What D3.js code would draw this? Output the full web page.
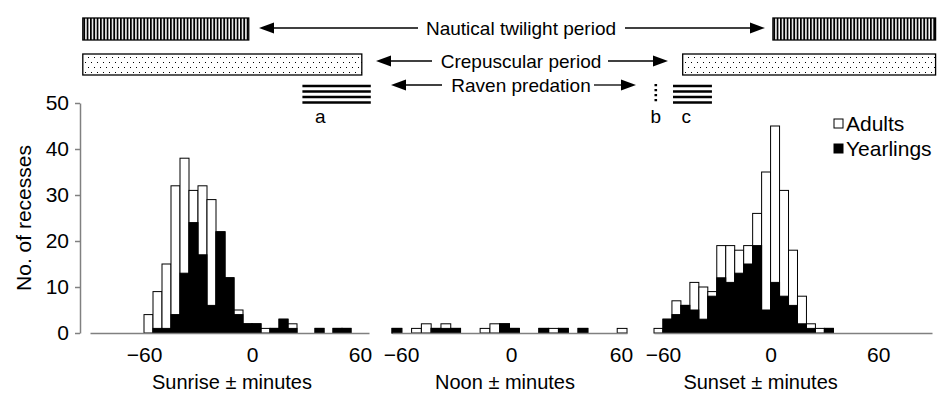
<!DOCTYPE html>
<html><head><meta charset="utf-8">
<script src="https://cdn.jsdelivr.net/npm/d3@7/dist/d3.min.js"></script>
<style>
body{margin:0;background:#fff}
svg{display:block;font-family:"Liberation Sans",Arial,sans-serif}
</style></head><body>
<svg width="938" height="393"></svg>
<script>
// 5-minute classes, value = start of the class
const sunriseBins = d3.range(-60, 55, 5);
const sunriseAdults    = [4,8,14,28,25,7,15,23,0,0,1,0,0,1,0,0,1,0,0,0,0,0,0];
const sunriseYearlings = [0,1,1,4,13,24,17,6,22,12,4,2,2,0,1,3,1,0,0,1,0,1,1];

const noonBins = d3.range(-60, 60, 5);
const noonAdults    = [0,0,1,2,0,1,0,0,0,1,2,0,0,0,0,0,1,0,0,0,0,0,0,1];
const noonYearlings = [1,0,0,0,1,1,1,0,0,0,0,2,1,0,0,1,0,1,0,1,0,0,0,0];

const sunsetBins = d3.range(-65, 35, 5);
const sunsetAdults    = [1,0,3,0,6,7,1,7,8,5,4,7,30,34,23,12,6,1,1,0];
const sunsetYearlings = [0,3,4,6,5,3,8,12,11,13,15,19,5,11,8,6,2,1,0,1];

const yTicks = [0, 10, 20, 30, 40, 50];
const xTicks = [-60, 0, 60];

const svg = d3.select("svg");
const y = d3.scaleLinear([0, 50], [333, 103]);
const gray = "#808080";

const panels = [
  {bins: sunriseBins, adults: sunriseAdults, yearlings: sunriseYearlings, domain: [-90, 65], range: [90, 369], tickRange: null, title: "Sunrise \u00b1 minutes", titleOff: -20},
  {bins: noonBins, adults: noonAdults, yearlings: noonYearlings, domain: [-60, 60], range: [392, 627], tickRange: [401, 621], title: "Noon \u00b1 minutes", titleOff: -6},
  {bins: sunsetBins, adults: sunsetAdults, yearlings: sunsetYearlings, domain: [-65, 90], range: [654, 932], tickRange: null, title: "Sunset \u00b1 minutes", titleOff: -10}
];

// --- y axis ---
const yAxis = svg.append("g").attr("transform", "translate(80,0)")
  .call(d3.axisLeft(y).tickValues(yTicks).tickSize(5).tickSizeOuter(0).tickPadding(6));
yAxis.select(".domain").attr("stroke", gray).attr("stroke-width", 1.5);
yAxis.selectAll(".tick line").attr("stroke", gray).attr("stroke-width", 1.5);
yAxis.selectAll("text").attr("font-size", 21).attr("fill", "#000").attr("font-family", null);

svg.append("text").attr("transform", "translate(31,218) rotate(-90)")
  .attr("text-anchor", "middle").attr("font-size", 21).text("No. of recesses");

// --- panels ---
panels.forEach(p => {
  p.x = d3.scaleLinear(p.domain, p.range);
  const bw = p.x(5) - p.x(0);
  const g = svg.append("g");
  const rows = p.bins.map((b, i) => ({bin: b, ad: p.adults[i], yr: p.yearlings[i]}));

  g.selectAll("rect.tot").data(rows.filter(d => d.ad + d.yr > 0)).enter().append("rect")
    .attr("x", d => p.x(d.bin)).attr("width", bw)
    .attr("y", d => y(d.ad + d.yr)).attr("height", d => y(0) - y(d.ad + d.yr))
    .attr("fill", "#fff").attr("stroke", "#000").attr("stroke-width", 1);
  g.selectAll("rect.yr").data(rows.filter(d => d.yr > 0)).enter().append("rect")
    .attr("x", d => p.x(d.bin)).attr("width", bw)
    .attr("y", d => y(d.yr)).attr("height", d => y(0) - y(d.yr))
    .attr("fill", "#000").attr("stroke", "#000").attr("stroke-width", 1);

  // baseline
  const base = svg.append("g").attr("transform", "translate(0,333)")
    .call(d3.axisBottom(p.x).tickValues([]).tickSizeOuter(0));
  base.select(".domain").attr("stroke", gray).attr("stroke-width", 1.5);

  // tick labels (noon labels sit slightly inside the panel ends)
  const xt = p.tickRange ? d3.scaleLinear([-60, 60], p.tickRange) : p.x;
  const ax = svg.append("g").attr("transform", "translate(0,333)")
    .call(d3.axisBottom(xt).tickValues(xTicks).tickSize(0).tickPadding(14));
  ax.select(".domain").remove();
  ax.selectAll("text").attr("font-size", 21).attr("fill", "#000").attr("font-family", null);

  svg.append("text").attr("x", xt(0) + p.titleOff).attr("y", 389).attr("text-anchor", "middle")
    .attr("font-size", 20).text(p.title);
});

// --- top annotations: periods in minutes relative to sunrise / sunset ---
const xs = panels[0].x, xe = panels[2].x;
const defs = svg.append("defs");
const stripes = defs.append("pattern").attr("id", "stripes").attr("patternUnits", "userSpaceOnUse")
  .attr("width", 10 / 3).attr("height", 10);
stripes.append("rect").attr("width", 10 / 3).attr("height", 10).attr("fill", "#fff");
stripes.append("rect").attr("width", 1.8).attr("height", 10).attr("fill", "#000");
const dots = defs.append("pattern").attr("id", "dots").attr("patternUnits", "userSpaceOnUse")
  .attr("width", 6).attr("height", 10);
dots.append("rect").attr("x", 1).attr("y", 2).attr("width", 1).attr("height", 1).attr("fill", "#000");
dots.append("rect").attr("x", 4).attr("y", 7).attr("width", 1).attr("height", 1).attr("fill", "#000");

const boxes = [
  {x0: xs(-94), x1: xs(-1.8), y: 18, h: 22, fill: "url(#stripes)"},
  {x0: xe(1.3), x1: xe(92), y: 18, h: 22, fill: "url(#stripes)"},
  {x0: xs(-94), x1: xs(61), y: 54, h: 21, fill: "url(#dots)"},
  {x0: xe(-49), x1: xe(92), y: 54, h: 21, fill: "url(#dots)"}
];
svg.selectAll("rect.box").data(boxes).enter().append("rect")
  .attr("x", d => d.x0).attr("y", d => d.y).attr("width", d => d.x1 - d.x0).attr("height", d => d.h)
  .attr("fill", d => d.fill).attr("stroke", "#000").attr("stroke-width", 1.3);

// raven predation bars
const ravenY = [86, 91.5, 97, 102.5];
[[xs(28), xs(66)], [xe(-54.4), xe(-32.7)]].forEach(([a, b]) => {
  svg.selectAll(null).data(ravenY).enter().append("line")
    .attr("x1", a).attr("x2", b).attr("y1", d => d).attr("y2", d => d)
    .attr("stroke", "#000").attr("stroke-width", 2.6);
});
svg.append("line").attr("x1", xe(-64)).attr("x2", xe(-64)).attr("y1", 84).attr("y2", 104)
  .attr("stroke", "#000").attr("stroke-width", 2.6).attr("stroke-dasharray", "2.2,2.8");

svg.selectAll("text.ab").data([["a", xs(38), 123], ["b", xe(-64), 123], ["c", xe(-47), 123]]).enter()
  .append("text").attr("x", d => d[1]).attr("y", d => d[2]).attr("text-anchor", "middle")
  .attr("font-size", 19).text(d => d[0]);

function arrow(xFrom, xTo, yy) {
  const dir = Math.sign(xTo - xFrom);
  svg.append("line").attr("x1", xFrom).attr("x2", xTo - dir * 12).attr("y1", yy).attr("y2", yy)
    .attr("stroke", "#000").attr("stroke-width", 1.3);
  svg.append("path").attr("d", `M${xTo},${yy} L${xTo - dir * 15},${yy - 5.5} L${xTo - dir * 15},${yy + 5.5} Z`)
    .attr("fill", "#000");
}
const notes = [
  {text: "Nautical twilight period", y: 28, left: [418, 259], right: [625, 765]},
  {text: "Crepuscular period", y: 61, left: [432, 376], right: [608, 668]},
  {text: "Raven predation", y: 85, left: [442, 391], right: [594, 636]}
];
notes.forEach(n => {
  svg.append("text").attr("x", 521).attr("y", n.y + 7).attr("text-anchor", "middle")
    .attr("font-size", 19).text(n.text);
  arrow(n.left[0], n.left[1], n.y);
  arrow(n.right[0], n.right[1], n.y);
});

// legend
const legend = [["Adults", "#fff", 124], ["Yearlings", "#000", 149]];
legend.forEach(([name, fill, ly]) => {
  svg.append("rect").attr("x", 834).attr("y", ly - 5).attr("width", 9).attr("height", 9)
    .attr("fill", fill).attr("stroke", "#000").attr("stroke-width", 1);
  svg.append("text").attr("x", 846).attr("y", ly + 7).attr("font-size", 21).text(name);
});
</script>
</body></html>
